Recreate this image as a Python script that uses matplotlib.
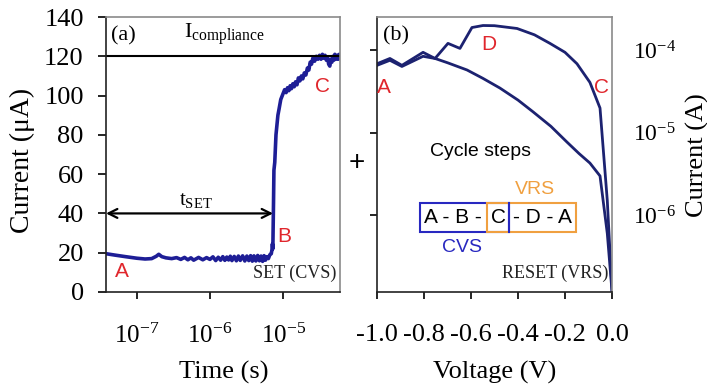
import matplotlib
matplotlib.use("Agg")
import matplotlib.pyplot as plt
from matplotlib.patches import Rectangle
from matplotlib.ticker import FixedLocator, NullLocator, FixedFormatter

plt.rcParams['mathtext.fontset'] = 'custom'
plt.rcParams['mathtext.rm'] = 'Liberation Serif'
plt.rcParams['mathtext.it'] = 'Liberation Serif:italic'
plt.rcParams['mathtext.bf'] = 'Liberation Serif:bold'

SERIF = 'Liberation Serif'
SANS = 'Liberation Sans'

# ---------------- Data: panel (a) SET under constant voltage stress ----------------
time_s = [3.8e-8, 5e-8, 7e-8, 1.0e-7, 1.3e-7, 1.6e-7, 1.85e-7, 2.0e-7, 2.2e-7, 2.5e-7,
          3.0e-7, 3.5e-7, 4.0e-7, 4.5e-7, 5.0e-7, 5.5e-7, 6.0e-7, 7.0e-7, 8.0e-7, 9.0e-7,
          1.0e-6, 1.1e-6, 1.2e-6, 1.3e-6, 1.4e-6, 1.5e-6, 1.6e-6, 1.7e-6, 1.8e-6, 1.9e-6,
          2.0e-6, 2.15e-6, 2.3e-6, 2.45e-6, 2.6e-6, 2.8e-6, 3.0e-6, 3.2e-6, 3.4e-6, 3.6e-6,
          3.8e-6, 4.0e-6, 4.25e-6, 4.5e-6, 4.75e-6, 5.0e-6, 5.25e-6, 5.5e-6, 5.75e-6, 6.0e-6,
          6.3e-6, 6.6e-6, 6.9e-6, 7.05e-6, 7.15e-6, 7.25e-6, 7.3e-6, 7.4e-6, 7.5e-6, 7.7e-6,
          8.0e-6, 8.5e-6, 8.8e-6, 9.3e-6,
          1.0e-5, 1.05e-5, 1.1e-5, 1.15e-5, 1.2e-5, 1.25e-5, 1.3e-5, 1.36e-5, 1.42e-5, 1.48e-5,
          1.55e-5, 1.62e-5, 1.7e-5, 1.78e-5, 1.86e-5, 1.95e-5, 2.05e-5, 2.15e-5, 2.25e-5, 2.35e-5,
          2.45e-5, 2.55e-5, 2.7e-5, 2.85e-5, 3.0e-5, 3.15e-5, 3.3e-5, 3.45e-5, 3.6e-5, 3.75e-5,
          3.9e-5, 4.05e-5, 4.2e-5, 4.35e-5, 4.5e-5, 4.65e-5, 4.8e-5, 4.95e-5, 5.1e-5, 5.3e-5,
          5.5e-5, 5.7e-5, 5.85e-5, 6.0e-5]
current_uA = [19.5, 18.8, 18.0, 17.2, 16.8, 17.0, 18.2, 19.2, 18.0, 17.4,
              17.0, 17.5, 16.6, 17.6, 16.4, 17.4, 16.2, 17.6, 16.4, 17.5,
              16.6, 17.9, 16.0, 17.7, 16.2, 18.0, 16.1, 17.8, 16.3, 18.2,
              16.0, 18.1, 15.9, 18.3, 16.1, 18.4, 15.8, 18.3, 16.0, 18.5,
              15.7, 18.4, 15.8, 18.6, 15.9, 18.3, 15.6, 18.5, 16.2, 18.0,
              17.0, 19.0, 19.5, 21.5, 24.5, 22.0, 30.0, 45.0, 62.0, 66.0,
              80.0, 90.0, 93.0, 98.0,
              101.0, 103.0, 101.5, 104.0, 102.5, 105.0, 103.5, 106.0, 104.5, 107.0,
              105.5, 109.0, 107.5, 110.0, 108.5, 111.5, 110.5, 114.0, 113.0, 117.0,
              116.0, 119.0, 117.5, 120.0, 118.5, 120.5, 118.5, 121.0, 119.0, 120.5,
              118.0, 119.5, 116.0, 115.0, 118.5, 117.0, 120.0, 118.0, 121.0, 118.5,
              120.5, 118.5, 121.0, 119.5]
i_compliance = 120.0
t_set = 7.3e-6

# ---------------- Data: panel (b) RESET under voltage ramp ----------------
v_upper = [-1.0, -0.945, -0.894, -0.804, -0.753, -0.698, -0.647, -0.596, -0.549, -0.50,
           -0.404, -0.33, -0.264, -0.20, -0.149, -0.094, -0.051, -0.02, 0.0]
i_upper = [6.9e-5, 8.0e-5, 6.6e-5, 9.5e-5, 8.0e-5, 1.22e-4, 1.06e-4, 1.9e-4, 2.01e-4, 2.0e-4,
           1.85e-4, 1.55e-4, 1.22e-4, 9.5e-5, 6.9e-5, 4.1e-5, 2.0e-5, 1.5e-6, 1.2e-7]
v_lower = [-1.0, -0.945, -0.894, -0.804, -0.753, -0.70, -0.617, -0.55, -0.477, -0.40,
           -0.336, -0.26, -0.191, -0.14, -0.094, -0.051, -0.02, 0.0]
i_lower = [6.6e-5, 7.6e-5, 6.4e-5, 8.5e-5, 8.0e-5, 7.1e-5, 5.8e-5, 4.6e-5, 3.5e-5, 2.5e-5,
           1.8e-5, 1.2e-5, 7.7e-6, 5.6e-6, 4.3e-6, 3.0e-6, 6.0e-7, 1.2e-7]

time_ticks = [1e-7, 1e-6, 1e-5]
time_ticklabels = [r'$10^{\mathregular{-7}}$', r'$10^{\mathregular{-6}}$', r'$10^{\mathregular{-5}}$']
cur_ticks = [0, 20, 40, 60, 80, 100, 120, 140]
volt_ticks = [-1.0, -0.8, -0.6, -0.4, -0.2, 0.0]
volt_ticklabels = ['-1.0', '-0.8', '-0.6', '-0.4', '-0.2', '0.0']
log_ticks = [1e-6, 1e-5, 1e-4]
log_ticklabels = [r'$10^{\mathregular{-6}}$', r'$10^{\mathregular{-5}}$', r'$10^{\mathregular{-4}}$']

W, H = 707, 387
fig = plt.figure(figsize=(W / 100, H / 100), dpi=100)

def fx(px):
    return px / W

def fy(py):
    return 1 - py / H

axA = fig.add_axes([fx(106), fy(292), fx(340) - fx(106), fy(17) - fy(292)])
axB = fig.add_axes([fx(377), fy(292), fx(612) - fx(377), fy(17) - fy(292)])

TRACE = '#1e1e96'
NAVY = '#1c2270'
RED = '#e0262c'
ORANGE = '#f0a040'
BLUE = '#2828c0'

for ax in (axA, axB):
    ax.spines['left'].set_color('#222222')
    ax.spines['bottom'].set_color('#222222')
    ax.spines['top'].set_color('#8a8a8a')
    ax.spines['right'].set_color('#8a8a8a')
    for s in ax.spines.values():
        s.set_linewidth(1.2)

# ---------------- Panel (a) ----------------
axA.plot(time_s, current_uA, color=TRACE, lw=2.6)
axA.set_xscale('log')
axA.set_xlim(3.8e-8, 6e-5)
axA.set_ylim(0, 140)
axA.axhline(i_compliance, color='black', lw=1.5)
axA.annotate('', xy=(t_set, 40), xytext=(3.8e-8, 40),
             arrowprops=dict(arrowstyle='<->', color='black', lw=1.6, mutation_scale=16,
                             shrinkA=0, shrinkB=0))
axA.xaxis.set_major_locator(FixedLocator(time_ticks))
axA.xaxis.set_major_formatter(FixedFormatter(time_ticklabels))
axA.xaxis.set_minor_locator(NullLocator())
axA.set_yticks(cur_ticks)
axA.tick_params(axis='x', direction='out', length=5, width=1.2, pad=18, labelsize=18)
axA.tick_params(axis='y', direction='out', length=6, width=1.2, pad=10, labelsize=19)
for lab in axA.get_xticklabels() + axA.get_yticklabels():
    lab.set_fontfamily(SERIF)

axA.text(0.02, 0.965, '(a)', transform=axA.transAxes, family=SERIF, fontsize=16,
         ha='left', va='top')
axA.text(1.6e-6, 124.5, r'I$_{\mathregular{compliance}}$', family=SERIF, fontsize=16,
         ha='center', va='bottom')
axA.text(6.5e-7, 41.5, r't$_{\mathregular{SET}}$', family=SERIF, fontsize=15,
         ha='center', va='bottom')
axA.text(0.985, 0.035, 'SET (CVS)', transform=axA.transAxes, family=SERIF, fontsize=13,
         ha='right', va='bottom', color='#222222')
axA.text(6.3e-8, 10.5, 'A', family=SANS, fontsize=15, color=RED, ha='center', va='center')
axA.text(1.03e-5, 28.5, 'B', family=SANS, fontsize=15, color=RED, ha='center', va='center')
axA.text(3.45e-5, 104.5, 'C', family=SANS, fontsize=15, color=RED, ha='center', va='center')

# ---------------- Panel (b) ----------------
axB.plot(v_upper, i_upper, color=NAVY, lw=2.0)
axB.plot(v_lower, i_lower, color=NAVY, lw=2.0)
axB.set_yscale('log')
axB.set_xlim(-1.0, 0.0)
axB.set_ylim(1.17e-7, 2.55e-4)
axB.set_xticks(volt_ticks)
axB.set_xticklabels(volt_ticklabels)
axB.yaxis.set_major_locator(FixedLocator(log_ticks))
axB.yaxis.set_major_formatter(FixedFormatter(log_ticklabels))
axB.yaxis.set_minor_locator(NullLocator())
axB.tick_params(axis='x', direction='out', length=5, width=1.2, pad=18, labelsize=19)
axB.tick_params(axis='y', direction='out', length=5, width=1.2, left=True, right=False,
                labelleft=False, labelright=True, pad=10, labelsize=17)
for lab in axB.get_xticklabels() + axB.get_yticklabels():
    lab.set_fontfamily(SERIF)

axB.text(0.025, 0.965, '(b)', transform=axB.transAxes, family=SERIF, fontsize=16,
         ha='left', va='top')
axB.text(0.44, 0.51, 'Cycle steps', transform=axB.transAxes, family=SANS, fontsize=14,
         ha='center', va='center')
axB.text(0.985, 0.035, 'RESET (VRS)', transform=axB.transAxes, family=SERIF, fontsize=13,
         ha='right', va='bottom', color='#222222')
axB.text(0.03, 0.745, 'A', transform=axB.transAxes, family=SANS, fontsize=15, color=RED,
         ha='center', va='center')
axB.text(0.475, 0.9, 'D', transform=axB.transAxes, family=SANS, fontsize=15, color=RED,
         ha='center', va='center')
axB.text(0.955, 0.745, 'C', transform=axB.transAxes, family=SANS, fontsize=15, color=RED,
         ha='center', va='center')

# Cycle-steps box (positions in axes fraction)
def axx(px):
    return (px - 377) / (612 - 377)

def axy(py):
    return (292 - py) / (292 - 17)

by0, by1 = axy(232), axy(203)
axB.add_patch(Rectangle((axx(420), by0), axx(509) - axx(420), by1 - by0,
                        transform=axB.transAxes, fill=False, ec=BLUE, lw=1.5))
axB.add_patch(Rectangle((axx(487), by0), axx(576) - axx(487), by1 - by0,
                        transform=axB.transAxes, fill=False, ec=ORANGE, lw=1.5))
axB.plot([axx(509), axx(509)], [by0, by1], transform=axB.transAxes, color=BLUE, lw=1.5)
ym = (by0 + by1) / 2
axB.text(axx(453), ym, 'A - B -', transform=axB.transAxes, family=SANS, fontsize=15,
         ha='center', va='center')
axB.text(axx(498), ym, 'C', transform=axB.transAxes, family=SANS, fontsize=15,
         ha='center', va='center')
axB.text(axx(542), ym, '- D - A', transform=axB.transAxes, family=SANS, fontsize=15,
         ha='center', va='center')
axB.text(axx(535), axy(189), 'VRS', transform=axB.transAxes, family=SANS, fontsize=14,
         color=ORANGE, ha='center', va='center')
axB.text(axx(462), axy(248), 'CVS', transform=axB.transAxes, family=SANS, fontsize=14,
         color=BLUE, ha='center', va='center')

# ---------------- Figure-level labels ----------------
fig.text(fx(22), fy(160), 'Current (μA)', family=SERIF, fontsize=20, rotation=90,
         ha='center', va='center')
fig.text(fx(224), fy(372), 'Time (s)', family=SERIF, fontsize=19, ha='center', va='center')
fig.text(fx(495), fy(372), 'Voltage (V)', family=SERIF, fontsize=19, ha='center', va='center')
fig.text(fx(697), fy(155), 'Current (A)', family=SERIF, fontsize=19, rotation=90,
         ha='center', va='center')
fig.text(fx(357), fy(163), '+', family=SANS, fontsize=20, ha='center', va='center')

fig.savefig('out.png', dpi=100, facecolor='white')
